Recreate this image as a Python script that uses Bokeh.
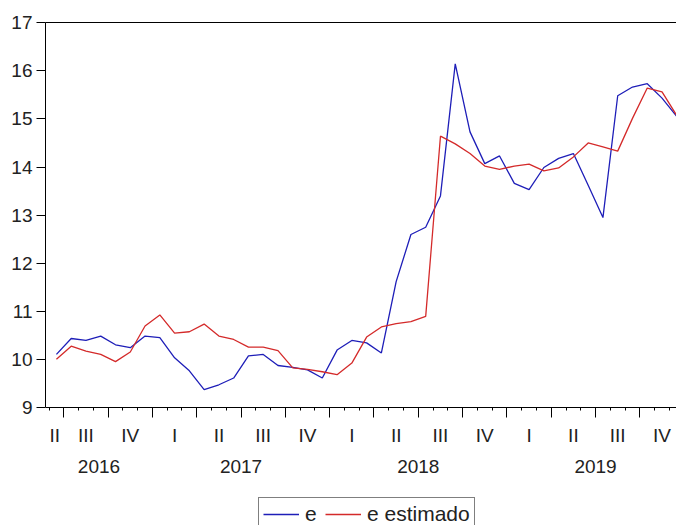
from bokeh.plotting import figure
from bokeh.models import (Range1d, LinearAxis, FixedTicker, Legend, LegendItem,
                          CustomJSTickFormatter)
from bokeh.embed import file_html
from bokeh.resources import INLINE

# ---------------- data ----------------
months = ["2016-06", "2016-07", "2016-08", "2016-09", "2016-10", "2016-11", "2016-12",
          "2017-01", "2017-02", "2017-03", "2017-04", "2017-05", "2017-06",
          "2017-07", "2017-08", "2017-09", "2017-10", "2017-11", "2017-12",
          "2018-01", "2018-02", "2018-03", "2018-04", "2018-05", "2018-06",
          "2018-07", "2018-08", "2018-09", "2018-10", "2018-11", "2018-12",
          "2019-01", "2019-02", "2019-03", "2019-04", "2019-05", "2019-06",
          "2019-07", "2019-08", "2019-09", "2019-10", "2019-11", "2019-12"]

e_values = [10.11, 10.44, 10.40, 10.49, 10.31, 10.25, 10.49, 10.46, 10.04, 9.77,
            9.38, 9.48, 9.62, 10.08, 10.11, 9.88, 9.84, 9.79, 9.62, 10.20,
            10.40, 10.35, 10.14, 11.62, 12.60, 12.75, 13.40, 16.14, 14.73, 14.07,
            14.23, 13.66, 13.53, 13.99, 14.18, 14.28, 13.62, 12.95, 15.48, 15.66,
            15.73, 15.43, 15.05]

e_estimado = [10.01, 10.28, 10.18, 10.11, 9.96, 10.16, 10.70, 10.93, 10.55, 10.58,
              10.74, 10.49, 10.42, 10.26, 10.26, 10.19, 9.83, 9.80, 9.75, 9.69,
              9.93, 10.47, 10.68, 10.75, 10.79, 10.90, 14.64, 14.48, 14.28, 14.02,
              13.95, 14.02, 14.06, 13.92, 13.98, 14.21, 14.50, 14.42, 14.33, 15.01,
              15.64, 15.56, 15.07]

y_ticks = [9, 10, 11, 12, 13, 14, 15, 16, 17]
quarter_names = ["I", "II", "III", "IV"]
series_names = ["e", "e estimado"]

# ---------------- styling ----------------
FONT_AXIS = "Liberation Sans Narrow, Liberation Sans, Arial, sans-serif"
FONT_LEG = "Liberation Sans, Arial, sans-serif"
BLUE = "#1e1eb8"
RED = "#d42a2a"
TXT = "#222222"

x = list(range(len(months)))
years = [int(m[:4]) for m in months]
mons = [int(m[5:]) for m in months]

x_min, x_max = -0.74, 41.98
y_lo, y_hi = y_ticks[0], y_ticks[-1]
# frame runs to the bottom of the page; the value axis occupies the upper 385 px
y_bottom = y_lo - (525 - 407.5) * (y_hi - y_lo) / 385.0

month_bounds = [i - 0.5 for i in x]
quarter_bounds = [i - 0.5 for i, m in zip(x, mons) if m in (1, 4, 7, 10)]

# quarter label positions (centre of each quarter's visible span)
q_pos, q_lab = [], []
seen = set()
for i, (yy, m) in enumerate(zip(years, mons)):
    q = (m - 1) // 3
    if (yy, q) in seen:
        continue
    seen.add((yy, q))
    start = i - ((m - 1) % 3) - 0.5
    end = start + 3
    q_pos.append((max(start, x_min) + end) / 2)
    q_lab.append(quarter_names[q])

# year label positions
y_pos, y_lab = [], []
seen = set()
for i, (yy, m) in enumerate(zip(years, mons)):
    if yy in seen:
        continue
    seen.add(yy)
    start = i - (m - 1) - 0.5
    end = start + 12
    y_pos.append((max(start, x_min) + end) / 2)
    y_lab.append(str(yy))

# ---------------- figure ----------------
p = figure(width=676, height=525, x_range=Range1d(x_min, x_max),
           y_range=Range1d(y_bottom, y_hi),
           output_backend="svg", toolbar_location=None, x_axis_location=None,
           min_border_left=45, min_border_right=0, min_border_top=22, min_border_bottom=0,
           background_fill_color="white", border_fill_color="white")
p.outline_line_color = None
p.grid.visible = False

ya = p.yaxis[0]
ya.ticker = FixedTicker(ticks=y_ticks)
ya.bounds = (y_lo, y_hi)
ya.major_tick_out = 9
ya.major_tick_in = 0
ya.minor_tick_line_color = None
ya.major_label_standoff = 4
ya.major_label_text_font = FONT_AXIS
ya.major_label_text_font_size = "19px"
ya.major_label_text_color = TXT
ya.axis_line_color = "black"
ya.major_tick_line_color = "black"

blank = CustomJSTickFormatter(code="return '';")

# top frame line
top = LinearAxis(ticker=FixedTicker(ticks=[y_pos[0]]), formatter=blank,
                 major_tick_line_color=None, minor_tick_line_color=None,
                 major_tick_out=0, major_label_standoff=0,
                 major_label_text_font_size="1px", axis_line_color="black")
p.add_layout(top, "above")

# tick-mark axis at y = 9 (quarters long, months short)
ax_ticks = LinearAxis(ticker=FixedTicker(ticks=quarter_bounds, minor_ticks=month_bounds),
                      formatter=blank, fixed_location=y_lo,
                      major_tick_out=10, major_tick_in=0, minor_tick_out=3, minor_tick_in=0,
                      major_label_standoff=0, major_label_text_font_size="1px",
                      axis_line_color="black", major_tick_line_color="black",
                      minor_tick_line_color="black")
p.add_layout(ax_ticks, "below")


def label_formatter(pos, lab):
    return CustomJSTickFormatter(args=dict(pos=pos, lab=lab), code="""
        let best = 0, bd = 1e9;
        for (let k = 0; k < pos.length; k++) {
            const d = Math.abs(pos[k] - tick);
            if (d < bd) { bd = d; best = k; }
        }
        return lab[best];
    """)


ax_q = LinearAxis(ticker=FixedTicker(ticks=q_pos, minor_ticks=[]),
                  formatter=label_formatter(q_pos, q_lab), fixed_location=y_lo,
                  axis_line_color=None, major_tick_line_color=None, minor_tick_line_color=None,
                  major_tick_out=0, major_tick_in=0, major_label_standoff=17,
                  major_label_text_font=FONT_AXIS, major_label_text_font_size="19px",
                  major_label_text_color=TXT)
p.add_layout(ax_q, "below")

ax_y = LinearAxis(ticker=FixedTicker(ticks=y_pos, minor_ticks=[]),
                  formatter=label_formatter(y_pos, y_lab), fixed_location=y_lo,
                  axis_line_color=None, major_tick_line_color=None, minor_tick_line_color=None,
                  major_tick_out=0, major_tick_in=0, major_label_standoff=52,
                  major_label_text_font=FONT_AXIS, major_label_text_font_size="19px",
                  major_label_text_color=TXT)
p.add_layout(ax_y, "below")

r_e = p.line(x, e_values, line_color=BLUE, line_width=1.3)
r_est = p.line(x, e_estimado, line_color=RED, line_width=1.3)

legend = Legend(items=[LegendItem(label=series_names[0], renderers=[r_e]),
                       LegendItem(label=series_names[1], renderers=[r_est])],
                orientation="horizontal", location=(213, -6), margin=0,
                padding=4, spacing=0, label_standoff=6, glyph_width=36, glyph_height=20,
                label_width=20, label_height=20, label_text_font=FONT_LEG,
                label_text_font_size="21px", label_text_line_height=1.0,
                label_text_color=TXT, border_line_color="black", border_line_width=1,
                background_fill_color="white", background_fill_alpha=1.0)
p.add_layout(legend, "center")

open("out.html", "w").write(file_html(p, INLINE))
